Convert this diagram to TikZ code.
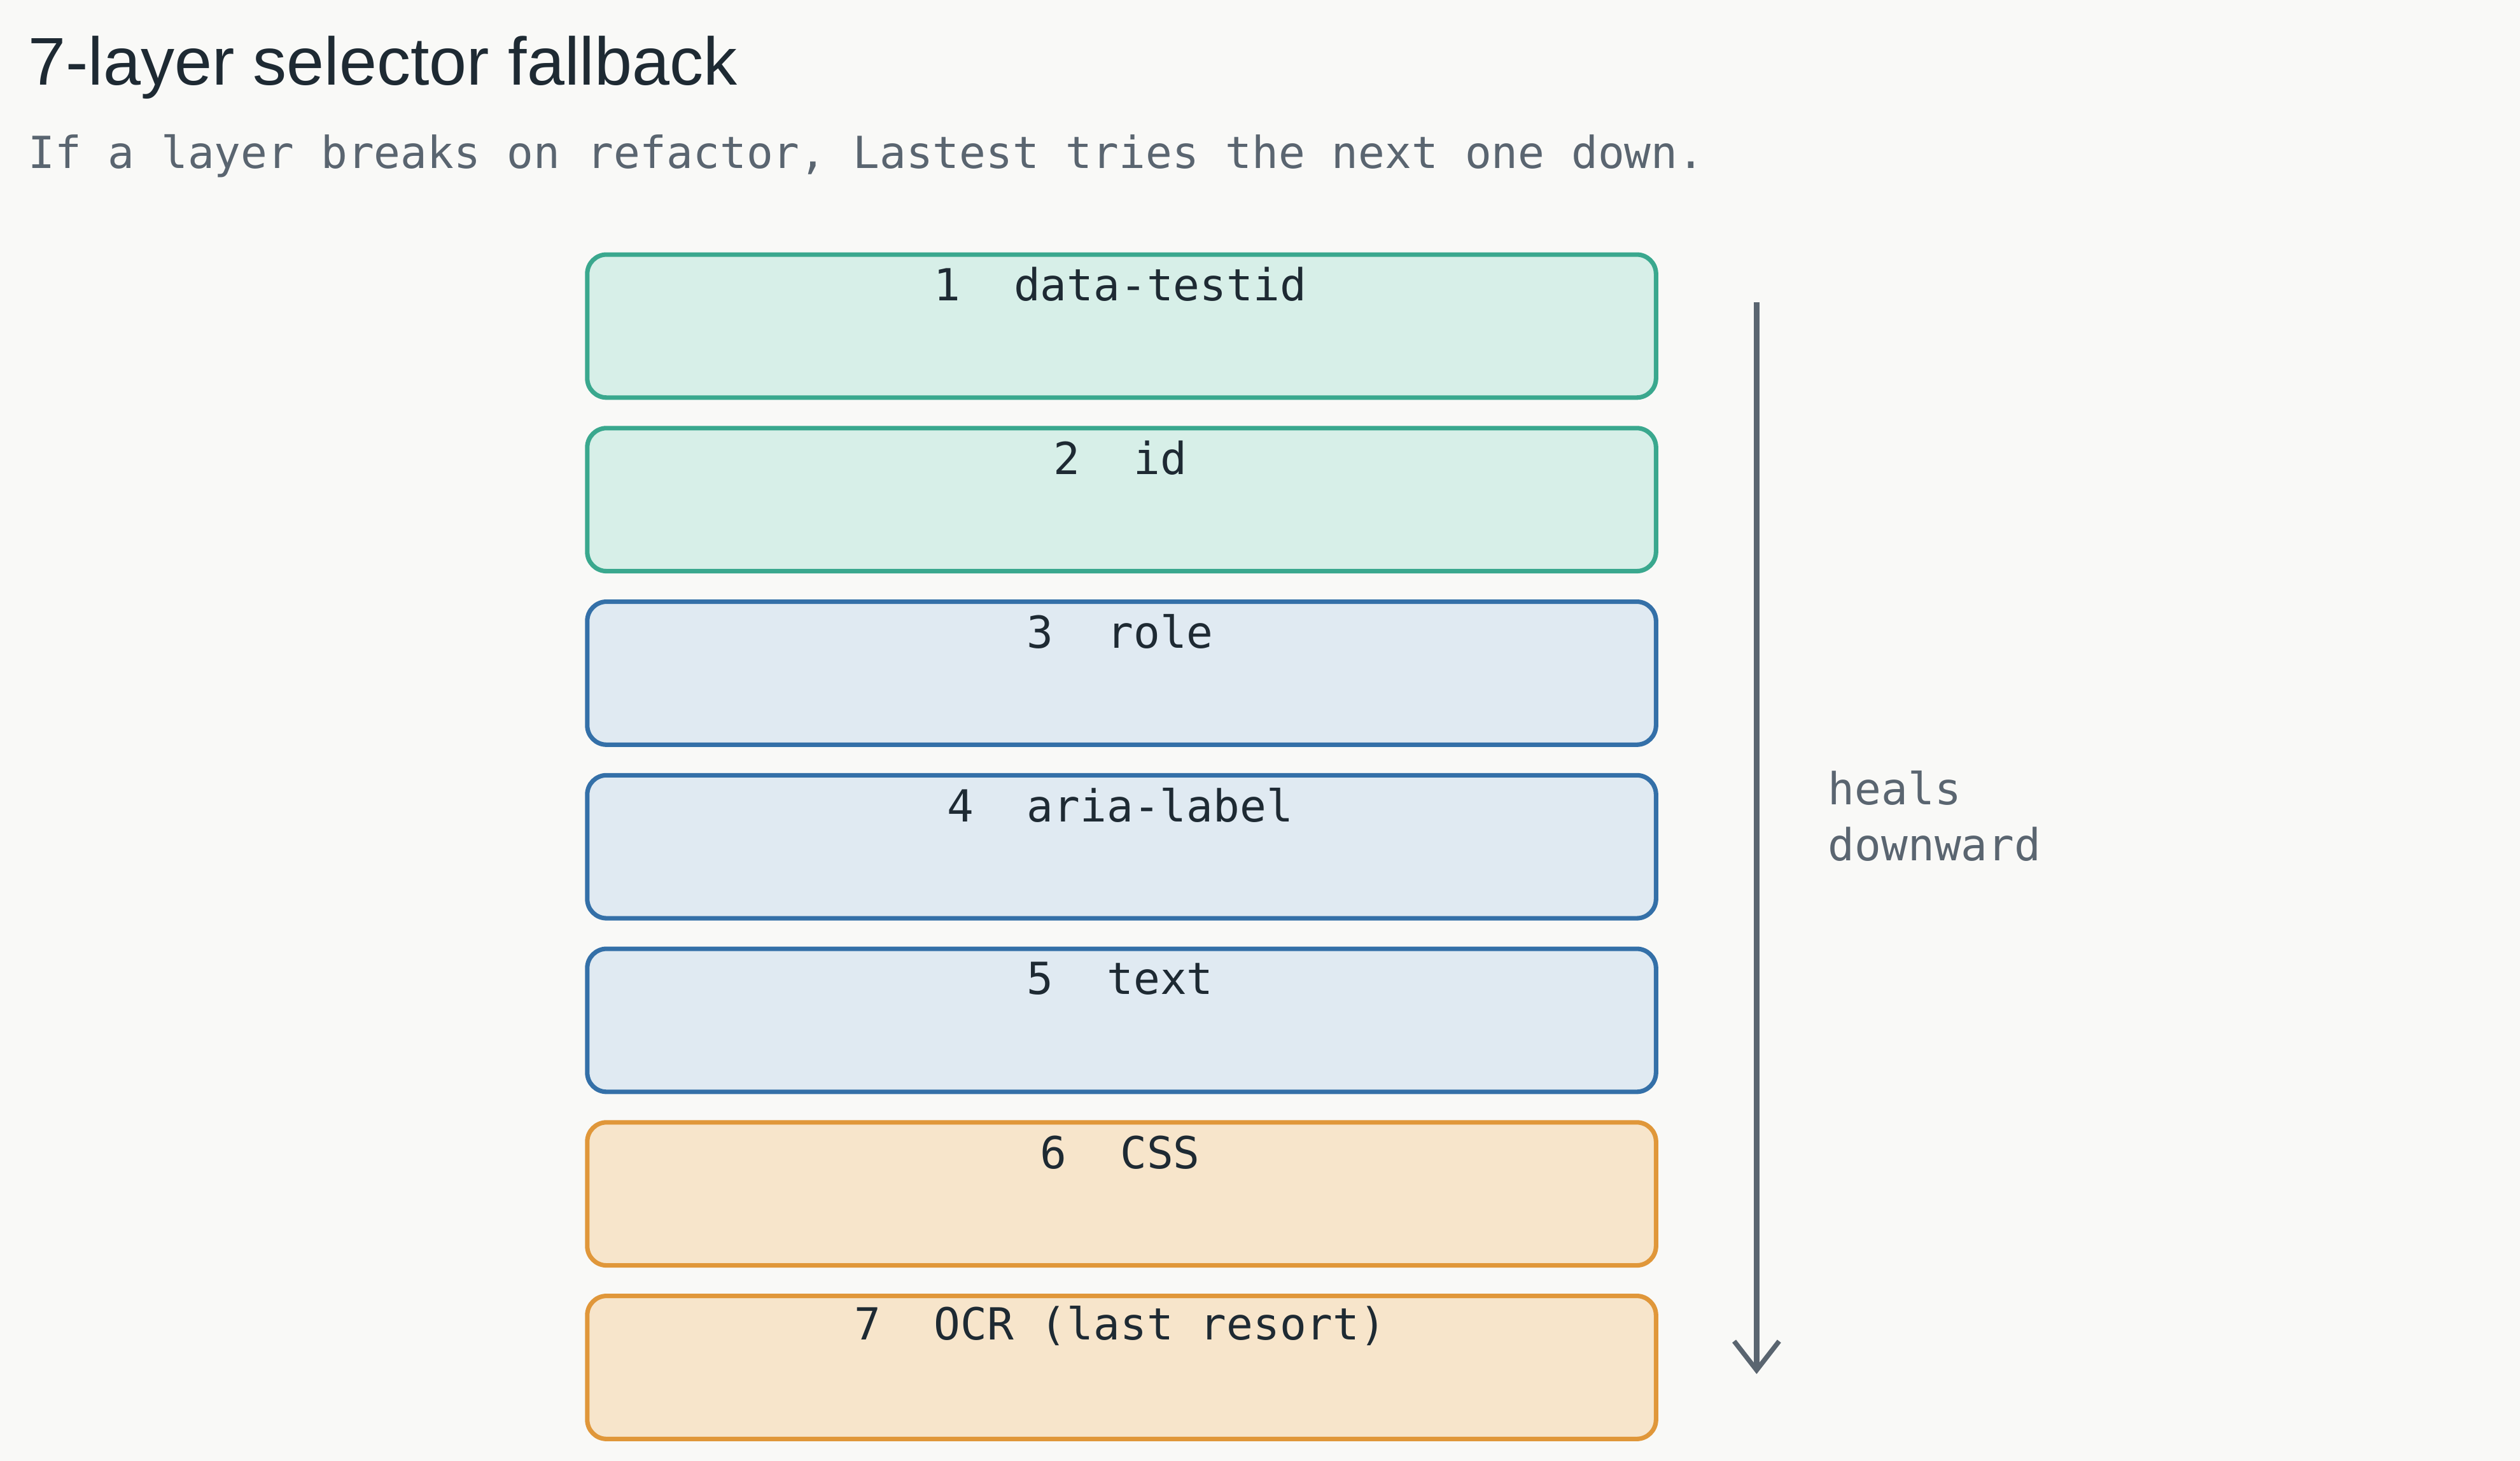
\documentclass[tikz,border=0pt]{standalone}
\usepackage{fontspec}
\setmainfont{Liberation Sans}
\newfontfamily\monof{DejaVu Sans Mono}
\usetikzlibrary{arrows.meta}
\definecolor{bg}{HTML}{F9F9F7}
\definecolor{gf}{HTML}{D7EFE8}\definecolor{gs}{HTML}{3AA88E}
\definecolor{bf}{HTML}{E0EAF2}\definecolor{bs}{HTML}{3470A8}
\definecolor{of}{HTML}{F7E5CB}\definecolor{os}{HTML}{E0973A}
\definecolor{ink}{HTML}{1E2A33}\definecolor{mut}{HTML}{5A6570}
\begin{document}
\begin{tikzpicture}[x=1pt,y=-1pt,
  lay/.style={draw=#1s,fill=#1f,line width=2.8pt,rounded corners=12pt,minimum width=665pt,minimum height=89pt,anchor=north west},
  lab/.style={font=\monof\fontsize{27.5}{32}\selectfont,text=ink,anchor=center}]
\fill[bg] (0,0) rectangle (1568,909);
\useasboundingbox (0,0) rectangle (1568,909);
\node[anchor=west,font=\fontsize{42}{50}\selectfont,text=ink] (t) at (14,42) {7-layer selector fallback};
\node[anchor=west,font=\monof\fontsize{27.5}{32}\selectfont,text=mut] (s) at (14,97) {If a layer breaks on refactor, Lastest tries the next one down.};
\foreach \i/\c/\t in {1/g/{1\ \ data-testid},2/g/{2\ \ id},3/b/{3\ \ role},4/b/{4\ \ aria-label},5/b/{5\ \ text},6/o/{6\ \ CSS},7/o/{7\ \ OCR (last resort)}}{
  \node[lay=\c] (b\i) at (364,{157+108*(\i-1)}) {};
  \node[lab] (l\i) at (697,{177+108*(\i-1)}) {\t};
}
\coordinate (a1) at (1093,188);
\coordinate (a2) at (1093,855);
\draw[mut,line width=3.5pt,-{Straight Barb[length=18pt,width=28pt,line width=3pt]}] (a1) -- (a2);
\node[anchor=north west,align=left,font=\monof\fontsize{27.5}{35}\selectfont,text=mut] (h) at (1134,476) {heals\\downward};
\end{tikzpicture}
\end{document}
